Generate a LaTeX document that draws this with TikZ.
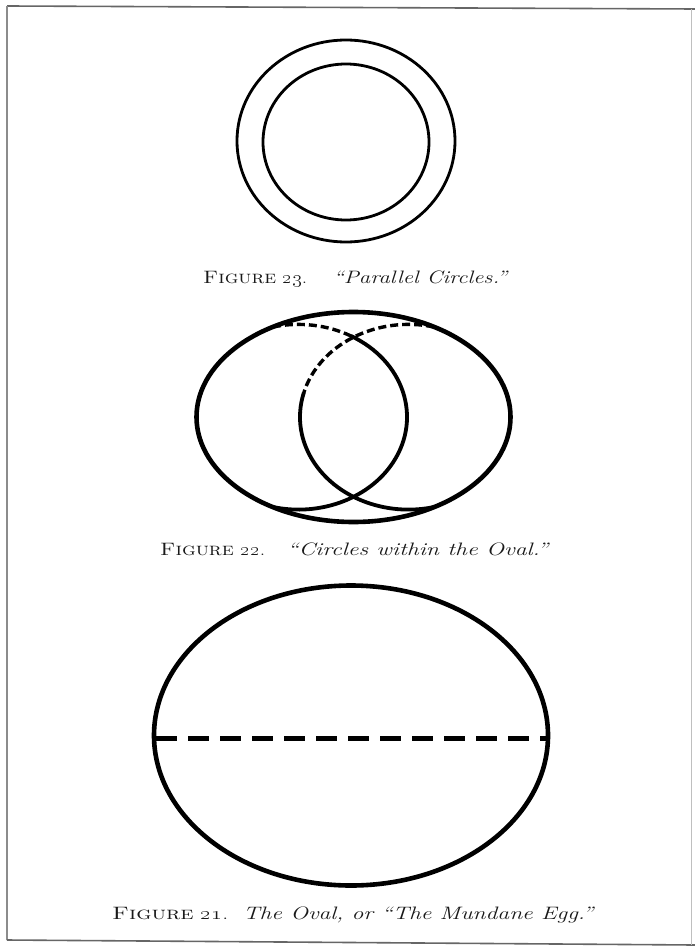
\documentclass[tikz,border=0pt]{standalone}
\usepackage{graphicx}
\begin{document}
\begin{tikzpicture}[x=1pt,y=-1pt,
  ink/.style={draw=black, line cap=round},
  thinring/.style={ink, line width=2.8pt},
  ovalline/.style={ink, line width=4.6pt},
  lensline/.style={ink, line width=3.8pt},
  lensdash/.style={ink, line width=3.4pt, line cap=butt, dash pattern=on 8pt off 4pt},
  eggdash/.style={draw=black, line width=5pt, dash pattern=on 21pt off 11pt},
  capsc/.style={anchor=base west, inner sep=0pt, text=black!90, font=\fontsize{18}{20}\selectfont},
  frameline/.style={draw=black!60, line width=1.6pt}
]
\useasboundingbox (0,0) rectangle (695,952);
\fill[white] (0,0) rectangle (695,952);
% page frame
\coordinate (ftl) at (7,6);
\coordinate (ftr) at (695,9);
\coordinate (fbl) at (7,940);
\coordinate (fbr) at (695,945);
\draw[frameline] (ftr) -- (ftl);
\draw[draw=black!45, line width=1.2pt] (ftl) -- (fbl);
\draw[frameline] (fbl) -- (fbr);
\draw[draw=black!25, line width=1pt] (691,9) -- (691,945);

% Figure 23: parallel circles
\draw[thinring] (346,141) ellipse [x radius=109, y radius=101];
\draw[thinring] (346,142) ellipse [x radius=83, y radius=78];
\node[capsc] (c23a) at (203,283) {\resizebox{104pt}{\height}{\textsc{Figure} \oldstylenums{23}.}};
\node[capsc] (c23b) at (333,283) {\resizebox{174pt}{\height}{\itshape ``Parallel Circles.''}};

% Figure 22: circles within the oval
\draw[ovalline] (353.5,417) ellipse [x radius=157, y radius=105];
% left circle
\draw[lensdash] (298.4,417) ++(-103.5:108.6 and 92.6) arc[start angle=-103.5, end angle=-61, x radius=108.6, y radius=92.6];
\draw[lensline] (298.4,417) ++(-61:108.6 and 92.6) arc[start angle=-61, end angle=103.5, x radius=108.6, y radius=92.6];
% right circle
\draw[lensdash] (408.6,417) ++(-76.5:108.6 and 92.6) arc[start angle=-76.5, end angle=-165, x radius=108.6, y radius=92.6];
\draw[lensline] (408.6,417) ++(-165:108.6 and 92.6) arc[start angle=-165, end angle=-283.5, x radius=108.6, y radius=92.6];
\node[capsc] (c22a) at (160,555) {\resizebox{105pt}{\height}{\textsc{Figure} \oldstylenums{22}.}};
\node[capsc] (c22b) at (287,555) {\resizebox{261pt}{\height}{\itshape ``Circles within the Oval.''}};

% Figure 21: the oval
\draw[ovalline] (351,735.5) ellipse [x radius=197, y radius=150];
\coordinate (eggl) at (156,738);
\coordinate (eggr) at (547,738);
\draw[eggdash] (eggl) -- (eggr);
\node[capsc] (c21a) at (112,919) {\resizebox{116pt}{\height}{\textsc{Figure} \oldstylenums{21}.}};
\node[capsc] (c21b) at (243,919) {\resizebox{350pt}{\height}{\itshape The Oval, or ``The Mundane Egg.''}};
\end{tikzpicture}
\end{document}
